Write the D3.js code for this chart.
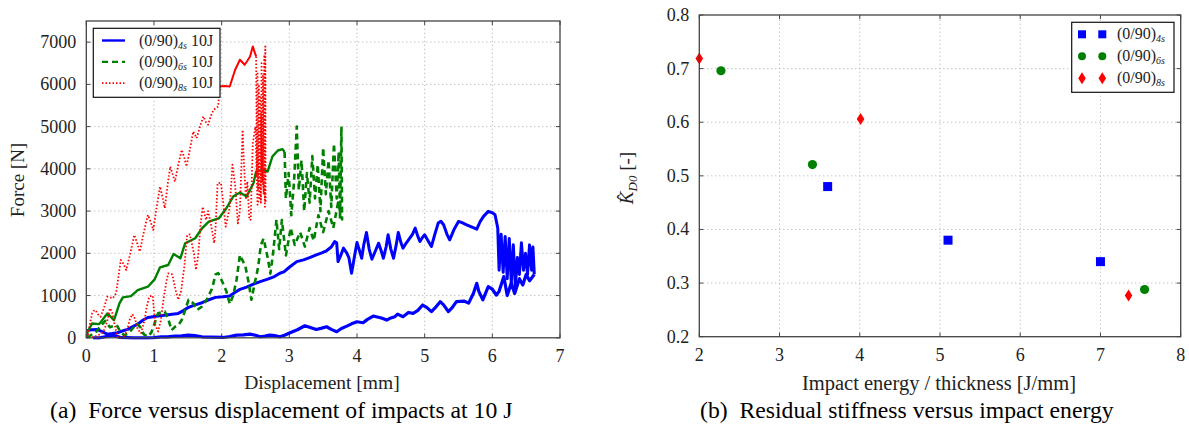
<!DOCTYPE html>
<html>
<head>
<meta charset="utf-8">
<script src="https://cdn.jsdelivr.net/npm/d3@7"></script>
<style>
  body { margin: 0; background: #fff; }
</style>
</head>
<body>
<svg id="chart" width="1189" height="445"></svg>
<script>
// ---- data: panel (a) force vs displacement, [displacement mm, force N]
const dispTicks = [0, 1, 2, 3, 4, 5, 6, 7];
const forceTicks = [0, 1000, 2000, 3000, 4000, 5000, 6000, 7000];

const blueLoad = [[0,170],[0.08,190],[0.16,198],[0.24,140],[0.31,87],[0.38,100],[0.46,119],[0.53,160],[0.61,198],[0.68,260],[0.76,324],[0.84,420],[0.91,482],[1.06,514],[1.21,545],[1.36,577],[1.44,650],[1.51,720],[1.61,780],[1.71,830],[1.81,900],[1.91,957],[2.02,970],[2.12,988],[2.2,1080],[2.27,1146],[2.37,1200],[2.47,1273],[2.57,1330],[2.67,1383],[2.78,1449],[2.86,1528],[2.92,1560],[3.0,1670],[3.11,1803],[3.21,1845],[3.3,1900],[3.4,1964],[3.48,2010],[3.55,2060],[3.62,2150],[3.67,2277],[3.7,2250],[3.72,1805],[3.76,1950],[3.8,2122],[3.85,2003],[3.88,1900],[3.92,1530],[3.96,1900],[4.0,2256],[4.04,2050],[4.07,1884],[4.1,2200],[4.14,2494],[4.18,2100],[4.22,1860],[4.27,2050],[4.32,2240],[4.36,2050],[4.39,1884],[4.43,2150],[4.46,2438],[4.5,2100],[4.54,1884],[4.58,2200],[4.61,2494],[4.65,2250],[4.68,2122],[4.73,2250],[4.78,2360],[4.82,2450],[4.86,2597],[4.9,2400],[4.93,2280],[4.97,2380],[5.0,2438],[5.05,2300],[5.1,2161],[5.15,2450],[5.2,2716],[5.24,2760],[5.28,2676],[5.33,2450],[5.37,2320],[5.43,2550],[5.5,2755],[5.56,2720],[5.62,2676],[5.7,2620],[5.77,2573],[5.82,2750],[5.87,2874],[5.94,2993],[6.0,2960],[6.04,2914],[6.08,2600],[6.1,1600],[6.13,2450],[6.16,1550],[6.19,2400],[6.22,1400],[6.25,2350],[6.28,1300],[6.31,2200],[6.34,1200],[6.37,1900],[6.4,1500],[6.43,2250],[6.46,1600],[6.49,2000],[6.52,1500],[6.55,2200],[6.58,1600],[6.6,2150],[6.62,1500]];
const blueUnload = [[6.62,1500],[6.55,1350],[6.5,1500],[6.45,1250],[6.4,1400],[6.33,1050],[6.28,1300],[6.22,1000],[6.17,1450],[6.1,1100],[6.06,1010],[6.0,1150],[5.94,1210],[5.86,900],[5.8,1100],[5.77,1290],[5.72,1050],[5.65,820],[5.58,870],[5.47,855],[5.4,700],[5.35,620],[5.28,780],[5.23,855],[5.15,700],[5.1,620],[5.03,720],[4.97,776],[4.9,650],[4.83,580],[4.76,600],[4.68,500],[4.6,560],[4.56,500],[4.5,470],[4.44,420],[4.36,470],[4.24,515],[4.15,430],[4.09,356],[4.0,380],[3.92,330],[3.85,277],[3.77,220],[3.7,143],[3.62,200],[3.55,261],[3.48,230],[3.4,198],[3.32,240],[3.23,285],[3.12,190],[3.01,119],[2.93,60],[2.86,24],[2.78,50],[2.71,63],[2.64,40],[2.57,24],[2.5,60],[2.42,87],[2.32,70],[2.22,63],[2.12,30],[2.02,8],[1.85,15],[1.71,24],[1.6,50],[1.51,63],[1.41,45],[1.31,40],[1.2,20],[1.11,24],[1.0,5],[0.9,0],[0.7,0],[0.5,10],[0.4,60],[0.3,30],[0.2,0],[0.1,0]];

const greenLoad = [[0,0],[0.02,142],[0.085,340],[0.19,324],[0.31,577],[0.41,419],[0.49,814],[0.54,957],[0.66,988],[0.76,1130],[0.91,1209],[1.01,1383],[1.09,1668],[1.21,1723],[1.29,1984],[1.39,1881],[1.46,2237],[1.61,2356],[1.71,2593],[1.81,2751],[1.96,2830],[2.07,3067],[2.17,3344],[2.27,3439],[2.37,3344],[2.47,3660],[2.51,3936],[2.61,3976],[2.68,3936],[2.75,4292],[2.83,4434],[2.9,4467],[2.93,4400]];
const greenUnload = [[2.93,4400],[2.95,3300],[2.99,3900],[3.03,2900],[3.07,3700],[3.11,5000],[3.14,3500],[3.18,4200],[3.22,3000],[3.26,3900],[3.3,3200],[3.34,4300],[3.38,3300],[3.42,4100],[3.46,3000],[3.5,4500],[3.54,3400],[3.58,4200],[3.62,3100],[3.66,4600],[3.7,3300],[3.73,4400],[3.75,2800],[3.77,5000],[3.78,2800],[3.72,3200],[3.65,2600],[3.58,3000],[3.5,2500],[3.43,2900],[3.36,2300],[3.3,2600],[3.23,2160],[3.16,2500],[3.08,2200],[3.02,2600],[2.95,1950],[2.89,2790],[2.85,2100],[2.81,2795],[2.76,2000],[2.72,1520],[2.68,1900],[2.62,2350],[2.58,2200],[2.54,1680],[2.49,1300],[2.44,900],[2.4,1300],[2.35,1700],[2.27,1960],[2.22,1370],[2.17,1000],[2.12,800],[2.07,1100],[2.02,1290],[1.95,1530],[1.91,1500],[1.86,1170],[1.78,900],[1.71,740],[1.64,660],[1.58,820],[1.51,900],[1.46,650],[1.41,420],[1.36,300],[1.31,260],[1.26,180],[1.21,450],[1.16,620],[1.1,600],[1.06,580],[1.0,300],[0.96,120],[0.91,30],[0.85,80],[0.8,250],[0.75,330],[0.7,250],[0.62,100],[0.56,60],[0.5,150],[0.45,300],[0.4,280],[0.35,250],[0.28,400],[0.21,280],[0.15,150],[0.1,100],[0.04,30],[0,0]];

const redRise = [[0,0],[0.02,24],[0.05,300],[0.085,577],[0.11,640],[0.135,656],[0.17,560],[0.21,498],[0.26,700],[0.31,972],[0.35,960],[0.39,933],[0.44,1051],[0.48,1500],[0.51,1842],[0.55,1750],[0.59,1605],[0.65,2000],[0.71,2435],[0.75,2250],[0.79,2040],[0.85,2500],[0.91,2909],[0.95,2750],[0.99,2553],[1.04,3100],[1.09,3581],[1.13,3300],[1.16,3067],[1.2,3600],[1.24,4055],[1.28,3850],[1.31,3699],[1.36,4100],[1.41,4450],[1.45,4250],[1.48,4055],[1.53,4450],[1.58,4884],[1.63,4727],[1.68,5000],[1.73,5240],[1.77,5100],[1.8,5043],[1.84,5250],[1.88,5398],[1.95,5477],[1.97,5950]];
const redPeak = [[1.97,5950],[2.04,5960],[2.12,5950],[2.16,6150],[2.2,6346],[2.27,6583],[2.34,6465],[2.38,6560],[2.42,6661],[2.46,6898],[2.49,6750],[2.51,6661]];
const redFall = [[2.51,6661],[2.52,3800],[2.53,6300],[2.54,3500],[2.55,6000],[2.56,3300],[2.57,5700],[2.58,3200],[2.59,6500],[2.6,3700],[2.61,6200],[2.62,3400],[2.63,6700],[2.64,3100],[2.645,6900],[2.65,3200],[2.6,3740],[2.58,5300],[2.55,3300],[2.53,3150],[2.5,5000],[2.46,4600],[2.43,2800],[2.41,2790],[2.38,3700],[2.36,3270],[2.33,4100],[2.31,4920],[2.27,3000],[2.24,2710],[2.2,3600],[2.16,4100],[2.12,3100],[2.06,2630],[2.03,3100],[1.99,3670],[1.94,3660],[1.91,2600],[1.89,2240],[1.84,2700],[1.8,3000],[1.77,2790],[1.72,3100],[1.69,2710],[1.65,1900],[1.62,1610],[1.59,2000],[1.53,2450],[1.49,2435],[1.45,1700],[1.4,1100],[1.36,900],[1.32,1130],[1.27,1500],[1.21,1526],[1.18,1300],[1.14,900],[1.1,400],[1.06,150],[1.02,300],[0.98,1000],[0.93,980],[0.89,700],[0.86,420],[0.81,110],[0.76,200],[0.72,450],[0.68,560],[0.64,420],[0.6,150],[0.55,30],[0.5,0],[0.46,30],[0.42,300],[0.38,620],[0.35,700],[0.31,400],[0.27,200],[0.22,100],[0.16,50],[0.1,20],[0.05,0]];

// ---- data: panel (b) residual stiffness vs impact energy per thickness
const energyTicks = [2, 3, 4, 5, 6, 7, 8];
const stiffTicks = [0.2, 0.3, 0.4, 0.5, 0.6, 0.7, 0.8];
const energy4s = [3.6, 5.1, 7.0];
const stiff4s = [0.48, 0.38, 0.34];
const energy6s = [2.27, 3.41, 7.55];
const stiff6s = [0.696, 0.521, 0.288];
const energy8s = [2.0, 4.01, 7.35];
const stiff8s = [0.719, 0.606, 0.277];

const svg = d3.select('#chart').attr('font-family', "'Liberation Serif', 'DejaVu Serif', 'Times New Roman', serif");
const gridColor = '#aaa', boxColor = '#444', labelColor = '#222';

function drawFrame(x, y, xTicks, yTicks, fmtY) {
  const [x0, x1] = x.range(), [y0, y1] = y.range();
  const g = svg.append('g');
  // dotted grid
  xTicks.slice(1, -1).forEach((t) => {
    g.append('line').attr('x1', x(t)).attr('x2', x(t)).attr('y1', y0).attr('y2', y1)
      .attr('stroke', gridColor).attr('stroke-width', 1).attr('stroke-dasharray', '1,3');
  });
  yTicks.slice(1).forEach((t) => {
    if (y(t) <= y1 + 0.5) return;
    g.append('line').attr('x1', x0).attr('x2', x1).attr('y1', y(t)).attr('y2', y(t))
      .attr('stroke', gridColor).attr('stroke-width', 1).attr('stroke-dasharray', '1,3');
  });
  // inner ticks on all sides
  xTicks.forEach((t) => {
    g.append('line').attr('x1', x(t)).attr('x2', x(t)).attr('y1', y0).attr('y2', y0 - 4).attr('stroke', boxColor);
    g.append('line').attr('x1', x(t)).attr('x2', x(t)).attr('y1', y1).attr('y2', y1 + 4).attr('stroke', boxColor);
    g.append('text').text(t).attr('x', x(t)).attr('y', y0 + 24)
      .attr('text-anchor', 'middle').attr('font-size', 18).attr('fill', labelColor);
  });
  yTicks.forEach((t) => {
    g.append('line').attr('x1', x0).attr('x2', x0 + 4).attr('y1', y(t)).attr('y2', y(t)).attr('stroke', boxColor);
    g.append('line').attr('x1', x1).attr('x2', x1 - 4).attr('y1', y(t)).attr('y2', y(t)).attr('stroke', boxColor);
    g.append('text').text(fmtY(t)).attr('x', x0 - 10).attr('y', y(t) + 6)
      .attr('text-anchor', 'end').attr('font-size', 18).attr('fill', labelColor);
  });
  return g;
}

function drawBox(x, y) {
  const [x0, x1] = x.range(), [y0, y1] = y.range();
  svg.append('rect').attr('x', x0).attr('y', y1).attr('width', x1 - x0).attr('height', y0 - y1)
    .attr('fill', 'none').attr('stroke', boxColor).attr('stroke-width', 1.3);
}

// ================= panel (a)
const xA = d3.scaleLinear().domain([0, 7]).range([86.3, 560]);
const yA = d3.scaleLinear().domain([0, 7500]).range([337.8, 21]);
drawFrame(xA, yA, dispTicks, forceTicks, (d) => d);

svg.append('clipPath').attr('id', 'clipA').append('rect')
  .attr('x', 86.3).attr('y', 21).attr('width', 560 - 86.3).attr('height', 337.8 - 21 + 2);
const line = d3.line().x((d) => xA(d[0])).y((d) => yA(d[1]));
const curves = svg.append('g').attr('clip-path', 'url(#clipA)');
const series = [
  [blueLoad, '#0000ff', 3, null],
  [blueUnload, '#0000ff', 3.2, null],
  [greenLoad, '#008000', 2.4, null],
  [greenUnload, '#008000', 2.6, '6,4'],
  [redRise, '#ff0000', 1.8, '1.5,2'],
  [redPeak, '#ff0000', 2, null],
  [redFall, '#ff0000', 1.8, '1.5,2']
];
series.forEach(([pts, col, w, dash]) => {
  curves.append('path').datum(pts).attr('d', line)
    .attr('fill', 'none').attr('stroke', col).attr('stroke-width', w)
    .attr('stroke-linejoin', 'round').attr('stroke-dasharray', dash);
});
drawBox(xA, yA);

// legend (a)
const legA = svg.append('g');
legA.append('rect').attr('x', 93.3).attr('y', 28.3).attr('width', 126.7).attr('height', 69)
  .attr('fill', '#fff').attr('stroke', '#111').attr('stroke-width', 1.2);
[['4s', '#0000ff', null, 2.4], ['6s', '#008000', '6,4', 2.2], ['8s', '#ff0000', '1.5,2', 1.6]].forEach(([sub, col, dash, w], i) => {
  const ly = 40.5 + i * 21.3;
  legA.append('line').attr('x1', 102).attr('x2', 125).attr('y1', ly).attr('y2', ly)
    .attr('stroke', col).attr('stroke-width', w).attr('stroke-dasharray', dash);
  const t = legA.append('text').attr('x', 139).attr('y', ly + 5).attr('font-size', 16).attr('fill', labelColor);
  t.append('tspan').text('(0/90)');
  t.append('tspan').text(sub).attr('font-style', 'italic').attr('font-size', 10).attr('dy', 3);
  t.append('tspan').text(' 10J').attr('dy', -3);
});

svg.append('text').text('Force [N]').attr('text-anchor', 'middle').attr('font-size', 19).attr('fill', labelColor)
  .attr('transform', 'translate(24,180) rotate(-90)');
svg.append('text').text('Displacement [mm]').attr('text-anchor', 'middle').attr('font-size', 19.5).attr('fill', labelColor)
  .attr('x', 322).attr('y', 389);

// ================= panel (b)
const xB = d3.scaleLinear().domain([2, 8]).range([699.3, 1180.7]);
const yB = d3.scaleLinear().domain([0.2, 0.8]).range([336.7, 15]);
drawFrame(xB, yB, energyTicks, stiffTicks, d3.format('.1f'));

const marks = svg.append('g');
const sq = 9;
energy4s.forEach((e, i) => {
  marks.append('rect').attr('x', xB(e) - sq / 2).attr('y', yB(stiff4s[i]) - sq / 2)
    .attr('width', sq).attr('height', sq).attr('fill', '#0000ff');
});
energy6s.forEach((e, i) => {
  marks.append('circle').attr('cx', xB(e)).attr('cy', yB(stiff6s[i])).attr('r', 4.6).attr('fill', '#008000');
});
const diamond = (cx, cy) => `M${cx},${cy - 6}L${cx + 3.8},${cy}L${cx},${cy + 6}L${cx - 3.8},${cy}Z`;
energy8s.forEach((e, i) => {
  marks.append('path').attr('d', diamond(xB(e), yB(stiff8s[i]))).attr('fill', '#ff0000');
});
drawBox(xB, yB);

// legend (b)
const legB = svg.append('g');
legB.append('rect').attr('x', 1071.7).attr('y', 22.3).attr('width', 102.3).attr('height', 70)
  .attr('fill', '#fff').attr('stroke', '#111').attr('stroke-width', 1.2);
['4s', '6s', '8s'].forEach((sub, i) => {
  const ly = 34.3 + i * 22;
  [1082, 1102.3].forEach((mx) => {
    if (i === 0) legB.append('rect').attr('x', mx - 4).attr('y', ly - 4).attr('width', 8).attr('height', 8).attr('fill', '#0000ff');
    if (i === 1) legB.append('circle').attr('cx', mx).attr('cy', ly).attr('r', 4).attr('fill', '#008000');
    if (i === 2) legB.append('path').attr('d', diamond(mx, ly)).attr('fill', '#ff0000');
  });
  const t = legB.append('text').attr('x', 1117).attr('y', ly + 5).attr('font-size', 16).attr('fill', labelColor);
  t.append('tspan').text('(0/90)');
  t.append('tspan').text(sub).attr('font-style', 'italic').attr('font-size', 10).attr('dy', 3);
});

const kLab = svg.append('text').attr('text-anchor', 'middle').attr('font-size', 19).attr('fill', labelColor)
  .attr('transform', 'translate(633,178) rotate(-90)');
kLab.append('tspan').text('K\u0302').attr('font-style', 'italic');
kLab.append('tspan').text('D0').attr('font-style', 'italic').attr('font-size', 13).attr('dy', 4);
kLab.append('tspan').text(' [-]').attr('dy', -4);
svg.append('text').text('Impact energy / thickness [J/mm]').attr('text-anchor', 'middle').attr('font-size', 20.5)
  .attr('fill', labelColor).attr('x', 939).attr('y', 390);

// captions
svg.append('text').attr('x', 50).attr('y', 418).attr('font-size', 23.7).attr('fill', '#000')
  .text('(a)\u2002Force versus displacement of impacts at 10 J');
svg.append('text').attr('x', 700).attr('y', 418).attr('font-size', 23.7).attr('fill', '#000')
  .text('(b)\u2002Residual stiffness versus impact energy');
</script>
</body>
</html>
